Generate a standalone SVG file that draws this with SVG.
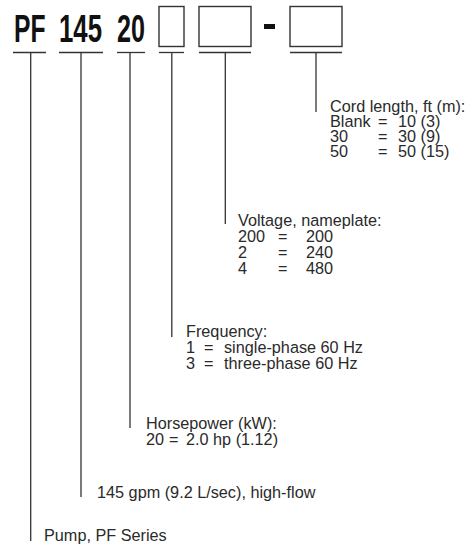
<svg xmlns="http://www.w3.org/2000/svg" width="473" height="545" viewBox="0 0 473 545">
<style>
.t{font-family:"Liberation Sans",Arial,sans-serif;font-size:16.5px;fill:#2a2a2a}
.h{font-family:"Liberation Sans",Arial,sans-serif;font-weight:bold;font-size:38.5px;fill:#111}
.box{fill:none;stroke:#333;stroke-width:1.4}
.ln{stroke:#333;stroke-width:1.3;fill:none}
</style>
<rect width="473" height="545" fill="#fff"/>
<g id="code">
<text class="h" x="14" y="41.5" textLength="31.5" lengthAdjust="spacingAndGlyphs">PF</text>
<text class="h" x="59" y="41.5" textLength="43" lengthAdjust="spacingAndGlyphs">145</text>
<text class="h" x="117" y="41.5" textLength="28" lengthAdjust="spacingAndGlyphs">20</text>
<rect class="box" x="159" y="6.5" width="25" height="40"/>
<rect class="box" x="199" y="6.5" width="52" height="40"/>
<rect x="264" y="24" width="11" height="5" fill="#111"/>
<rect class="box" x="290" y="6.5" width="52" height="40"/>
</g>
<g id="connectors">
<line class="ln" x1="13" y1="52.5" x2="46" y2="52.5"/>
<line class="ln" x1="59" y1="52.5" x2="103" y2="52.5"/>
<line class="ln" x1="117" y1="52.5" x2="145" y2="52.5"/>
<line class="ln" x1="159" y1="52.5" x2="184" y2="52.5"/>
<line class="ln" x1="199" y1="52.5" x2="251" y2="52.5"/>
<line class="ln" x1="290" y1="52.5" x2="342" y2="52.5"/>
<line class="ln" x1="30.7" y1="52.5" x2="30.7" y2="541"/>
<line class="ln" x1="81" y1="52.5" x2="81" y2="497"/>
<line class="ln" x1="130" y1="52.5" x2="130" y2="428"/>
<line class="ln" x1="171.8" y1="52.5" x2="171.8" y2="337"/>
<line class="ln" x1="225.3" y1="52.5" x2="225.3" y2="224"/>
<line class="ln" x1="316" y1="52.5" x2="316" y2="112"/>
</g>
<g id="cord" transform="translate(330,0) scale(0.985,1)">
<text class="t" x="0" y="112">Cord length, ft (m):</text>
<text class="t" x="0" y="127">Blank</text><text class="t" x="48.7" y="127">=</text><text class="t" x="69" y="127">10 (3)</text>
<text class="t" x="0" y="142">30</text><text class="t" x="48.7" y="142">=</text><text class="t" x="69" y="142">30 (9)</text>
<text class="t" x="0" y="157">50</text><text class="t" x="48.7" y="157">=</text><text class="t" x="69" y="157">50 (15)</text>
</g>
<g id="voltage" transform="translate(238,0) scale(0.985,1)">
<text class="t" x="0" y="226">Voltage, nameplate:</text>
<text class="t" x="0" y="242">200</text><text class="t" x="40.6" y="242">=</text><text class="t" x="69" y="242">200</text>
<text class="t" x="0" y="258">2</text><text class="t" x="40.6" y="258">=</text><text class="t" x="69" y="258">240</text>
<text class="t" x="0" y="274">4</text><text class="t" x="40.6" y="274">=</text><text class="t" x="69" y="274">480</text>
</g>
<g id="frequency" transform="translate(186,0) scale(0.985,1)">
<text class="t" x="0" y="337">Frequency:</text>
<text class="t" x="0" y="353">1</text><text class="t" x="18.3" y="353">=</text><text class="t" x="38.6" y="353">single-phase 60 Hz</text>
<text class="t" x="0" y="369">3</text><text class="t" x="18.3" y="369">=</text><text class="t" x="38.6" y="369">three-phase 60 Hz</text>
</g>
<g id="horsepower" transform="translate(146,0) scale(0.985,1)">
<text class="t" x="0" y="429">Horsepower (kW):</text>
<text class="t" x="0" y="445">20</text><text class="t" x="23.4" y="445">=</text><text class="t" x="40.6" y="445">2.0 hp (1.12)</text>
</g>
<g id="flow" transform="translate(97,0) scale(0.985,1)">
<text class="t" x="0" y="498">145 gpm (9.2 L/sec), high-flow</text>
</g>
<g id="pump" transform="translate(44,0) scale(0.985,1)">
<text class="t" x="0" y="541">Pump, PF Series</text>
</g>
</svg>
